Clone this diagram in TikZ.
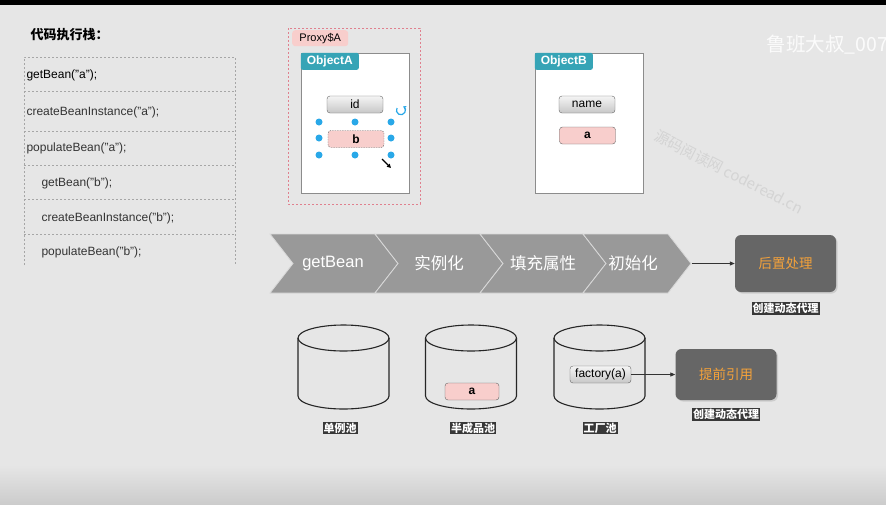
\documentclass[tikz,border=0pt]{standalone}
\usepackage{fontspec}
\setmainfont{Liberation Sans}
\newfontfamily\cjk{Noto Sans CJK SC}
\usetikzlibrary{positioning, arrows.meta, shadows}

\definecolor{bg}{HTML}{E6E6E6}
\definecolor{pinkfill}{HTML}{F8CECC}
\definecolor{pinkline}{HTML}{E0808E}
\definecolor{tabteal}{HTML}{36A4B6}
\definecolor{handle}{HTML}{29A8E8}
\definecolor{stagegray}{HTML}{999999}
\definecolor{hookgray}{HTML}{666666}
\definecolor{hookorange}{HTML}{F5A23A}

\begin{document}
\begin{tikzpicture}[x=1pt, y=-1pt,
	code/.style={anchor=west, text=black!80, font=\fontsize{12}{14}\selectfont},
	stackline/.style={draw=black!35, dash pattern=on 2pt off 2pt, line width=0.6pt},
	obj/.style={draw=black!45, line width=0.8pt, fill=white, minimum width=108pt, minimum height=140pt, inner sep=0pt},
	tab/.style={fill=tabteal, text=white, anchor=north west, rounded corners=2pt, minimum width=58pt, minimum height=17pt, inner sep=0pt, font=\bfseries\fontsize{12}{14}\selectfont},
	field/.style={draw=black!60, rounded corners=3pt, top color=black!4, bottom color=black!22, minimum width=56pt, minimum height=17pt, inner sep=0pt, font=\fontsize{12}{14}\selectfont},
	ref/.style={field, top color=pinkfill, bottom color=pinkfill, font=\bfseries\fontsize{12}{14}\selectfont},
	handledot/.style={circle, fill=handle, minimum size=7pt, inner sep=0pt},
	stage/.style={text=white, font=\fontsize{16.5}{18}\selectfont},
	hook/.style={fill=hookgray, rounded corners=6pt, text=hookorange, minimum width=101pt, minimum height=57pt, drop shadow={opacity=0.25, shadow xshift=1.5pt, shadow yshift=-1.5pt}, font=\cjk\fontsize{13.5}{16}\selectfont},
	tag/.style={fill=black!78, text=white, inner sep=1pt, font=\cjk\bfseries\fontsize{11}{12}\selectfont},
	pool/.style={draw=black!85, line width=1.1pt},
	flow/.style={draw=black!80, line width=0.8pt, -{Triangle[length=5pt, width=4pt]}}]
	\clip (0,0) rectangle (886,504);
	\fill[bg] (0,0) rectangle (886,504);
	\shade[top color=bg, bottom color=black!20] (0,465) rectangle (886,504);
	\fill[black] (0,0) rectangle (886,5);
	
	\node[anchor=west, font=\cjk\bfseries\fontsize{13}{15}\selectfont] (title) at (27,34.5) {代码执行栈：};
	\draw[stackline] (24,265) -- (24,57) -- (235,57) -- (235,265);
	\foreach \y in {91,131,165,199,234}
		\draw[stackline] (24,\y) -- (235,\y);
	\node[code, text=black] (c0) at (23,75) {getBean("a");};
	\node[code] (c1) at (23,112) {createBeanInstance("a");};
	\node[code] (c2) at (23,148) {populateBean("a");};
	\node[code] (c3) at (38,183) {getBean("b");};
	\node[code] (c4) at (38,218) {createBeanInstance("b");};
	\node[code] (c5) at (38,252) {populateBean("b");};
	
	\draw[draw=pinkline, dash pattern=on 2pt off 2pt, line width=0.7pt] (288,28) rectangle (420,204);
	\node[fill=pinkfill, rounded corners=3pt, anchor=north west, minimum width=56pt, minimum height=16pt, inner sep=0pt, font=\fontsize{11}{13}\selectfont] (proxy) at (292,30) {Proxy\$A};
	
	\node[obj] (A) at (355,123) {};
	\node[tab] (tabA) at (A.north west) {ObjectA};
	\node[field] (id) at (355,104.5) {id};
	\node[ref, dash pattern=on 1.5pt off 1pt] (b) at (356,139) {b};
	\foreach \x/\y in {319/122, 355/122, 391/122, 319/138, 391/138, 319/155, 355/155, 391/155}
		\node[handledot] at (\x,\y) {};
	\draw[handle, line width=1.2pt, -{Stealth[length=3pt, width=4pt]}] (397,108) arc[start angle=150, end angle=420, radius=4.5pt];
	\draw[line width=1.3pt, -{Triangle[length=4pt, width=4pt]}] (382,159) -- (391,168);
	
	\node[obj] (B) at (589,123) {};
	\node[tab] (tabB) at (B.north west) {ObjectB};
	\node[field] (name) at (587,104.5) {name};
	\node[ref] (a) at (587.5,135.5) {a};
	
	\foreach \s/\r in {270/375, 375/480, 480/583, 583/668}
		\filldraw[fill=stagegray, draw=white!85!black, line width=0.8pt] (\s,234) -- (\r,234) -- (\r+23,263.5) -- (\r,293) -- (\s,293) -- (\s+23,263.5) -- cycle;
	\node[stage] (get) at (333,263.5) {getBean};
	\node[stage] (create) at (439,263.5) {\cjk 实例化};
	\node[stage] (fill) at (543,263.5) {\cjk 填充属性};
	\node[stage] (init) at (633,263.5) {\cjk 初始化};
	\coordinate (tip) at (692,263.5);
	\node[hook] (post) at (785.5,263.5) {后置处理};
	\draw[flow] (tip) -- (post);
	\node[tag, below=10pt of post] (postTag) {创建动态代理};
	
	\foreach \cx in {343.5, 471, 599.5} {
		\draw[pool] (\cx-45.5,338) -- (\cx-45.5,396) arc[start angle=180, end angle=360, x radius=45.5pt, y radius=13pt] -- (\cx+45.5,338);
		\draw[pool] (\cx,338) ellipse[x radius=45.5pt, y radius=13pt];
	}
	\node[tag] (single) at (340,428) {单例池};
	\node[tag] (half) at (473,428) {半成品池};
	\node[tag] (factory) at (600,428) {工厂池};
	\node[ref, minimum width=54pt] (early) at (472,391.5) {a};
	\node[field, minimum width=61pt] (fac) at (600.5,374.5) {factory(a)};
	\node[hook, minimum height=51pt] (ahead) at (726,374.5) {提前引用};
	\draw[flow] (fac) -- (ahead);
	\node[tag, below=8pt of ahead] (aheadTag) {创建动态代理};
	
	\node[anchor=west, text=white, opacity=0.85, font=\cjk\fontsize{19.5}{22}\selectfont] (mark) at (763,45) {鲁班大叔\_007};
	\node[rotate=-27, text=black!17, font=\cjk\fontsize{15}{17}\selectfont] (site) at (729,172) {源码阅读网 coderead.cn};
\end{tikzpicture}
\end{document}
